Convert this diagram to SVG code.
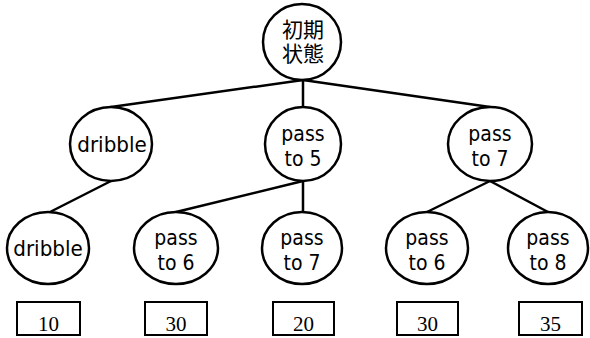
<svg xmlns="http://www.w3.org/2000/svg" width="590" height="338" viewBox="0 0 590 338">
  <style>
    .node ellipse { fill: #fff; stroke: #000; stroke-width: 2.5; }
    .node text { font-family: "DejaVu Sans", "Noto Sans", sans-serif; font-size: 21px; fill: #000; text-anchor: middle; }
    .root text { font-family: "Liberation Sans", "Noto Sans CJK JP", sans-serif; font-size: 21px; }
    .score rect { fill: #fff; stroke: #000; stroke-width: 2; }
    .score text { font-family: "Liberation Serif", "Times New Roman", serif; font-size: 21px; fill: #000; text-anchor: middle; }
    #edges line { stroke: #000; stroke-width: 2.5; stroke-linecap: round; }
  </style>

  <!-- tree edges -->
  <g id="edges">
    <line x1="303" y1="80" x2="111" y2="107"/>
    <line x1="303" y1="80" x2="303" y2="107"/>
    <line x1="303" y1="80" x2="490" y2="107"/>
    <line x1="111" y1="181" x2="50" y2="212"/>
    <line x1="303" y1="181" x2="176" y2="212"/>
    <line x1="303" y1="181" x2="303" y2="212"/>
    <line x1="490" y1="181" x2="427" y2="212"/>
    <line x1="490" y1="181" x2="548" y2="212"/>
  </g>

  <!-- root state -->
  <g id="root" class="node root">
    <ellipse cx="302" cy="42" rx="39" ry="38"/>
    <text><tspan x="303" y="37">初期</tspan><tspan x="303" y="61">状態</tspan></text>
  </g>

  <!-- first level (labels narrowed horizontally) -->
  <g id="dribble1" class="node">
    <ellipse cx="111" cy="144" rx="41" ry="37"/>
    <text transform="translate(112 152) scale(0.95 1)">dribble</text>
  </g>
  <g id="pass5" class="node">
    <ellipse cx="303" cy="144" rx="38" ry="37"/>
    <text transform="translate(303 0) scale(0.9 1)"><tspan x="0" y="141">pass</tspan><tspan x="0" y="166">to 5</tspan></text>
  </g>
  <g id="pass7" class="node">
    <ellipse cx="490" cy="144" rx="42" ry="37"/>
    <text transform="translate(490 0) scale(0.9 1)"><tspan x="0" y="141">pass</tspan><tspan x="0" y="166">to 7</tspan></text>
  </g>

  <!-- second level -->
  <g id="dribble2" class="node">
    <ellipse cx="48" cy="248" rx="41" ry="36"/>
    <text transform="translate(48 256) scale(0.95 1)">dribble</text>
  </g>
  <g id="pass5to6" class="node">
    <ellipse cx="176" cy="248" rx="42" ry="36"/>
    <text transform="translate(176 0) scale(0.9 1)"><tspan x="0" y="245">pass</tspan><tspan x="0" y="270">to 6</tspan></text>
  </g>
  <g id="pass5to7" class="node">
    <ellipse cx="302" cy="248" rx="40" ry="36"/>
    <text transform="translate(302 0) scale(0.9 1)"><tspan x="0" y="245">pass</tspan><tspan x="0" y="270">to 7</tspan></text>
  </g>
  <g id="pass7to6" class="node">
    <ellipse cx="427" cy="248" rx="41" ry="36"/>
    <text transform="translate(427 0) scale(0.9 1)"><tspan x="0" y="245">pass</tspan><tspan x="0" y="270">to 6</tspan></text>
  </g>
  <g id="pass7to8" class="node">
    <ellipse cx="548" cy="248" rx="40" ry="36"/>
    <text transform="translate(548 0) scale(0.9 1)"><tspan x="0" y="245">pass</tspan><tspan x="0" y="270">to 8</tspan></text>
  </g>

  <!-- leaf scores -->
  <g id="score1" class="score">
    <rect x="17" y="302" width="63" height="33"/>
    <text x="48.5" y="331">10</text>
  </g>
  <g id="score2" class="score">
    <rect x="145" y="302" width="62" height="33"/>
    <text x="176" y="331">30</text>
  </g>
  <g id="score3" class="score">
    <rect x="273" y="302" width="61" height="33"/>
    <text x="303.5" y="331">20</text>
  </g>
  <g id="score4" class="score">
    <rect x="397" y="302" width="61" height="33"/>
    <text x="427.5" y="331">30</text>
  </g>
  <g id="score5" class="score">
    <rect x="519" y="302" width="63" height="33"/>
    <text x="550.5" y="331">35</text>
  </g>
</svg>
